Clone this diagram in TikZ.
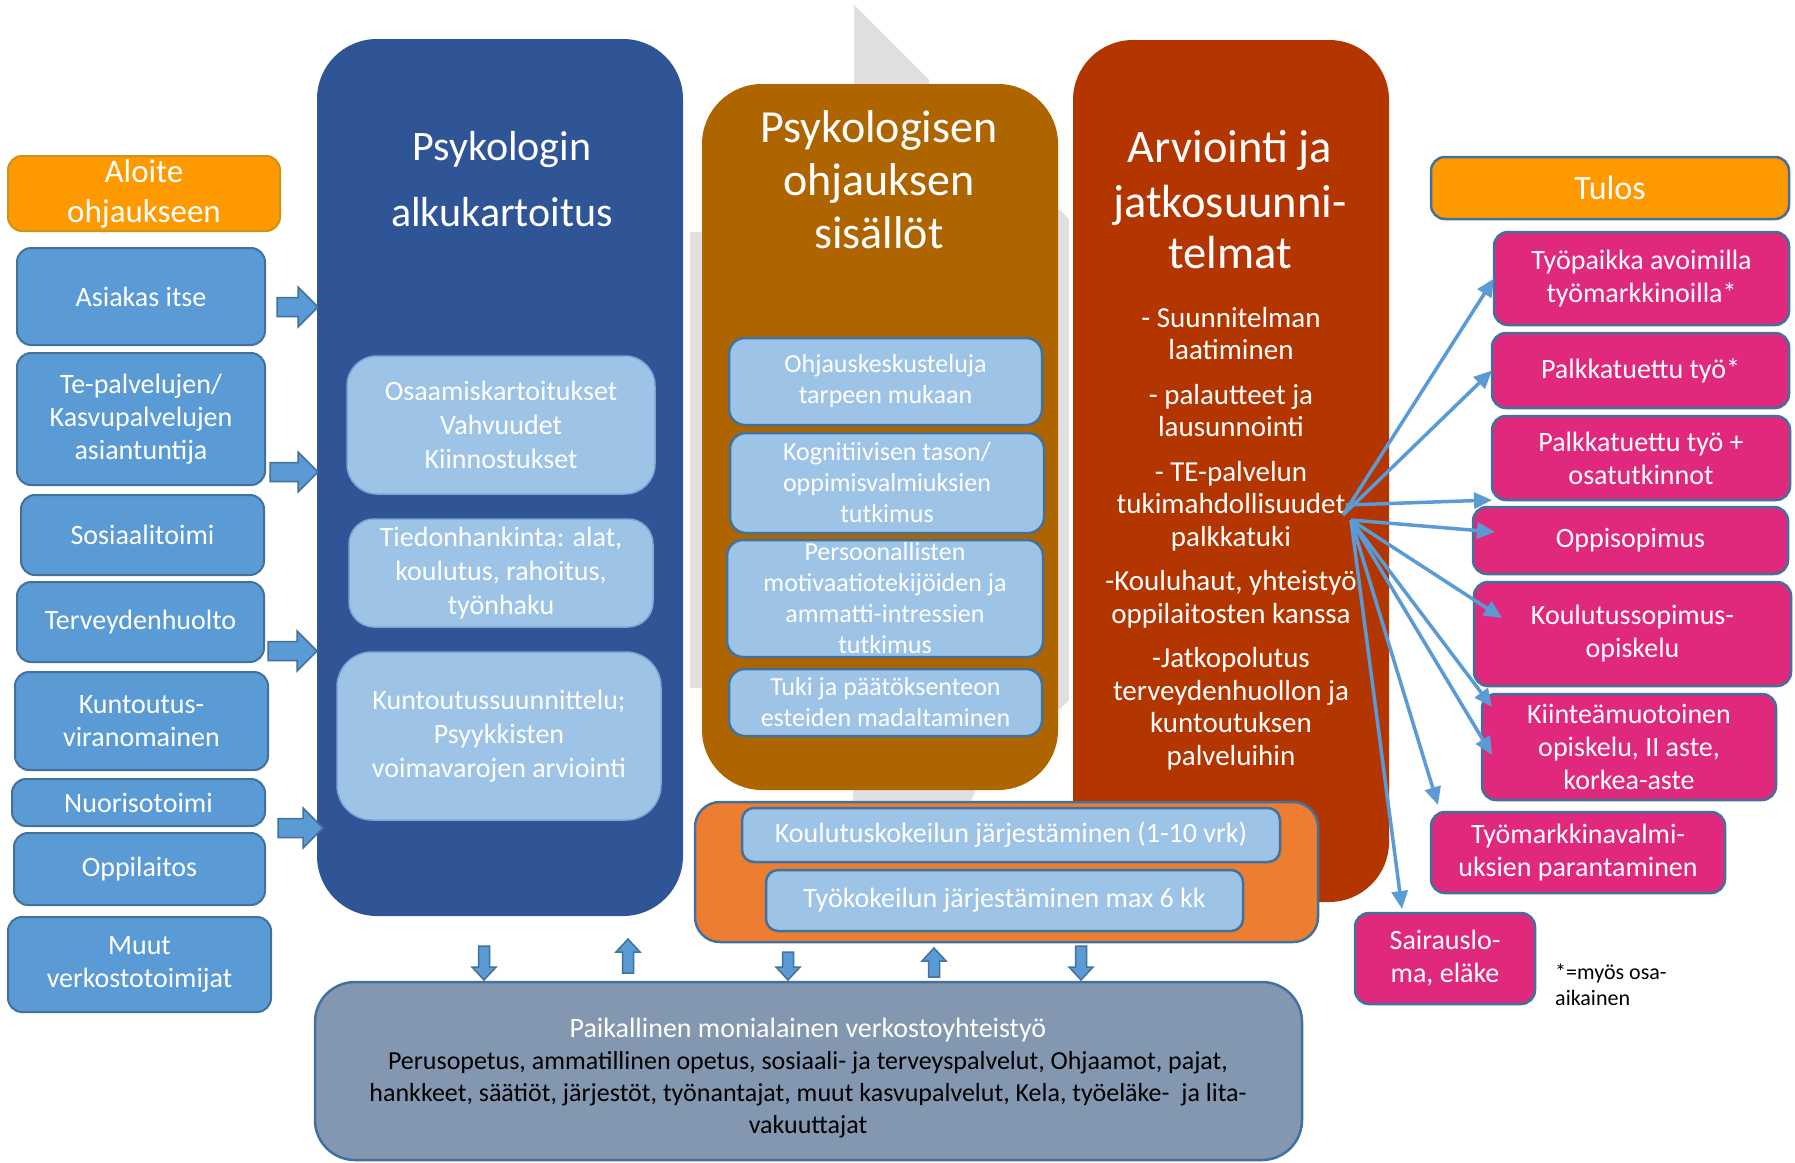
\documentclass[tikz,border=0pt]{standalone}
\usepackage{fontspec}
\setmainfont{Carlito}
\usetikzlibrary{arrows.meta,calc}
\definecolor{colblue}{HTML}{2F5597}
\definecolor{colbrown}{HTML}{AE6500}
\definecolor{colred}{HTML}{B33500}
\definecolor{mblue}{HTML}{5B9BD5}
\definecolor{lblue}{HTML}{9DC3E6}
\definecolor{eblue}{HTML}{41719C}
\definecolor{iedge}{HTML}{7EA6D6}
\definecolor{orng}{HTML}{FF9900}
\definecolor{orngb}{HTML}{ED7D31}
\definecolor{pinkc}{HTML}{E0297D}
\definecolor{netgray}{HTML}{8497B0}
\definecolor{ghost}{HTML}{E0E0E0}
\definecolor{goldedge}{HTML}{C9961A}
\newcommand\myfs[2]{\fontsize{#1}{#2}\selectfont}
\begin{document}
\begin{tikzpicture}[x=1pt,y=-1pt,
  place/.style n args={4}{minimum width={#3-(#1)}, minimum height={#4-(#2)}, at={({(#1+#3)/2},{(#2+#4)/2})}},
  box/.style={rectangle, inner sep=0pt, outer sep=0pt, align=center, text=white},
  lbox/.style={box, fill=mblue, draw=eblue, line width=2pt, rounded corners=14pt, font=\myfs{28}{33}},
  ibox/.style={box, fill=lblue, draw=iedge, line width=1.5pt, font=\myfs{28}{34}},
  mbox/.style={box, fill=lblue, draw=eblue, line width=2.5pt, rounded corners=16pt, font=\myfs{26}{31}},
  pbox/.style={box, fill=pinkc, draw=eblue, line width=2.5pt, rounded corners=14pt, font=\myfs{28}{33}},
  colbox/.style={rectangle, inner sep=0pt, outer sep=0pt, rounded corners=60pt},
  ctitle/.style={anchor=base, text=white, inner sep=0pt},
  barr/.style={fill=mblue, draw=eblue, line width=1.5pt, line join=miter},
  conn/.style={draw=mblue, line width=3.5pt, -{Triangle[length=18pt,width=16pt]}},
  pics/rarr/.style={code={\draw[barr] (-#1,-9.5) -- (-20,-9.5) -- (-20,-20) -- (0,0) -- (-20,20) -- (-20,9.5) -- (-#1,9.5) -- cycle;}},
  pics/darr/.style={code={\draw[barr] (-5.5,-#1) -- (5.5,-#1) -- (5.5,-13) -- (12,-13) -- (0,0) -- (-12,-13) -- (-5.5,-13) -- cycle;}},
  pics/uarr/.style={code={\draw[barr] (-5.5,#1) -- (5.5,#1) -- (5.5,13) -- (12,13) -- (0,0) -- (-12,13) -- (-5.5,13) -- cycle;}}
]
\useasboundingbox[fill=white] (0,0) rectangle (1795,1162);

% ghost background shapes
\fill[ghost] (854,5) -- (929,80) -- (929,100) -- (854,100) -- cycle;
\fill[ghost] (690,232) rectangle (706,688);
\fill[ghost] (1055,210) -- (1060,210) -- (1069,219) -- (1069,700) -- (1060,709) -- (1055,709) -- cycle;
\fill[ghost] (853,785) -- (978,785) -- (970,803) -- (853,803) -- cycle;

% columns
\node[colbox, fill=colblue, place={317}{39}{683}{916}] (c1) {};
\node[colbox, fill=colbrown, place={702}{84}{1058}{790}] (c2) {};
\node[colbox, fill=colred, place={1073}{40}{1389}{902}] (c3) {};

\node[ctitle, font=\myfs{42}{50}] (c1a) at (502,160) {Psykologin};
\node[ctitle, font=\myfs{42}{50}] (c1b) at (502,226) {alkukartoitus};
\node[ctitle, font=\myfs{46}{53}] (c2a) at (879,142) {Psykologisen};
\node[ctitle, font=\myfs{46}{53}] (c2b) at (879,195) {ohjauksen};
\node[ctitle, font=\myfs{46}{53}] (c2c) at (879,248) {sisällöt};
\node[ctitle, font=\myfs{46.5}{53}] (c3a) at (1230,162) {Arviointi ja};
\node[ctitle, font=\myfs{46.5}{53}] (c3b) at (1230,217) {jatkosuunni-};
\node[ctitle, font=\myfs{46.5}{53}] (c3c) at (1230,268) {telmat};

\node[anchor=north, text=white, inner sep=0pt, align=center, font=\myfs{29}{32.5}] (c3body) at (1231,307)
 {- Suunnitelman\\laatiminen\\[12pt]
  - palautteet ja\\lausunnointi\\[12pt]
  - TE-palvelun\\tukimahdollisuudet\\palkkatuki\\[12pt]
  -Kouluhaut, yhteistyö\\oppilaitosten kanssa\\[12pt]
  -Jatkopolutus\\terveydenhuollon ja\\kuntoutuksen\\palveluihin};

% blue column inner boxes
\node[ibox, rounded corners=30pt, place={347}{356}{655}{494}] (o1) {Osaamiskartoitukset\\Vahvuudet\\Kiinnostukset};
\node[ibox, rounded corners=25pt, place={349}{519}{653}{627}] (o2) {Tiedonhankinta: alat,\\koulutus, rahoitus,\\työnhaku};
\node[ibox, rounded corners=35pt, place={337}{652}{661}{820}] (o3) {Kuntoutussuunnittelu;\\Psyykkisten\\voimavarojen arviointi};

% brown column inner boxes
\node[mbox, place={729}{338}{1042}{425}] (m1) {Ohjauskeskusteluja\\tarpeen mukaan};
\node[mbox, place={730}{433}{1044}{533}] (m2) {Kognitiivisen tason/\\oppimisvalmiuksien\\tutkimus};
\node[mbox, place={727}{540}{1043}{657}] (m3) {Persoonallisten\\motivaatiotekijöiden ja\\ammatti-intressien\\tutkimus};
\node[mbox, place={729}{669}{1042}{736}] (m4) {Tuki ja päätöksenteon\\esteiden madaltaminen};

% bottom orange box
\node[box, fill=orngb, draw=eblue, line width=2.5pt, rounded corners=25pt, place={695}{802}{1318}{942}] (ob) {};
\node[mbox, rounded corners=12pt, font=\myfs{28}{32}, place={742}{808}{1280}{862}] (k1) {Koulutuskokeilun järjestäminen (1-10 vrk)};
\node[mbox, rounded corners=12pt, font=\myfs{28}{32}, place={766}{870}{1243}{931}] (k2) {Työkokeilun järjestäminen max 6 kk};

% header boxes
\node[box, fill=orng, draw=goldedge, line width=2pt, rounded corners=14pt, font=\myfs{33}{40}, place={8}{156}{280}{231}] (aloite) {Aloite\\ohjaukseen};
\node[box, fill=orng, draw=eblue, line width=2.5pt, rounded corners=14pt, font=\myfs{34}{38}, place={1431}{157}{1789}{219}] (tulos) {Tulos};

% left boxes
\node[lbox, place={17}{248}{265}{345}] (l1) {Asiakas itse};
\node[lbox, place={17}{353}{265}{485}] (l2) {Te-palvelujen/\\Kasvupalvelujen\\asiantuntija};
\node[lbox, place={21}{495}{264}{575}] (l3) {Sosiaalitoimi};
\node[lbox, place={17}{582}{264}{662}] (l4) {Terveydenhuolto};
\node[lbox, place={15}{672}{268}{770}] (l5) {Kuntoutus-\\viranomainen};
\node[lbox, place={12}{779}{265}{826}] (l6) {Nuorisotoimi};
\node[lbox, place={14}{833}{265}{905}] (l7) {Oppilaitos};
\node[lbox, place={8}{917}{271}{1012}] (l8) {Muut\\verkostotoimijat};

% left block arrows
\pic at (318,307) {rarr=41};
\pic at (318,472) {rarr=48};
\pic at (317,651) {rarr=49};
\pic at (323,828) {rarr=45};

% network box
\node[box, fill=netgray, draw=eblue, line width=2.5pt, rounded corners=40pt, place={315}{982}{1302}{1160}] (net) {};
\node[anchor=north, inner sep=0pt, align=center, font=\myfs{26}{32}] (nettext) at (808,1018)
 {{\color{white}\fontsize{28}{32}\selectfont Paikallinen monialainen verkostoyhteistyö}\\
  Perusopetus, ammatillinen opetus, sosiaali- ja terveyspalvelut, Ohjaamot, pajat,\\
  hankkeet, säätiöt, järjestöt, työnantajat, muut kasvupalvelut, Kela, työeläke-\ \ ja lita-\\
  vakuuttajat};

% small vertical arrows
\pic at (484,980) {darr=34};
\pic at (628,939) {uarr=34};
\pic at (788,980) {darr=28};
\pic at (934,948) {uarr=29};
\pic at (1081,980) {darr=34};

% result boxes
\node[pbox, place={1494}{232}{1789}{325}] (pb1) {Työpaikka avoimilla\\työmarkkinoilla*};
\node[pbox, place={1492}{333}{1789}{408}] (pb2) {Palkkatuettu työ*};
\node[pbox, place={1492}{416}{1790}{500}] (pb3) {Palkkatuettu työ +\\osatutkinnot};
\node[pbox, place={1473}{507}{1788}{574}] (pb4) {Oppisopimus};
\node[pbox, place={1474}{582}{1791}{686}] (pb5) {Koulutussopimus-\\opiskelu};
\node[pbox, place={1482}{694}{1776}{800}] (pb6) {Kiinteämuotoinen\\opiskelu, II aste,\\korkea-aste};
\node[pbox, place={1431}{812}{1725}{893}] (pb7) {Työmarkkinavalmi-\\uksien parantaminen};
\node[pbox, place={1355}{913}{1535}{1004}] (pb8) {Sairauslo-\\ma, eläke};

\node[anchor=north west, inner sep=0pt, align=left, font=\myfs{22}{26}] (note) at (1555,964) {*=myös osa-\\aikainen};

% connectors
\coordinate (hubA) at (1343,515);
\coordinate (hubB) at (1346,505);
\coordinate (hubC) at (1351,520);
\draw[conn] (hubA) -- (pb1.west);
\draw[conn] (hubA) -- (pb2.west);
\draw[conn] (hubB) -- (pb3.south west);
\draw[conn] (hubC) -- ($(pb4.west)+(22,-8.5)$);
\draw[conn] (hubC) -- ($(pb5.west)+(28,-16)$);
\draw[conn] (hubC) -- ($(pb6.north west)+(10,13)$);
\draw[conn] (hubC) -- ($(pb6.west)+(10,8)$);
\draw[conn] (hubC) -- ($(pb7.north west)+(7,-7)$);
\draw[conn] (hubC) -- ($(pb8.north)+(-43,-4)$);
\end{tikzpicture}
\end{document}
